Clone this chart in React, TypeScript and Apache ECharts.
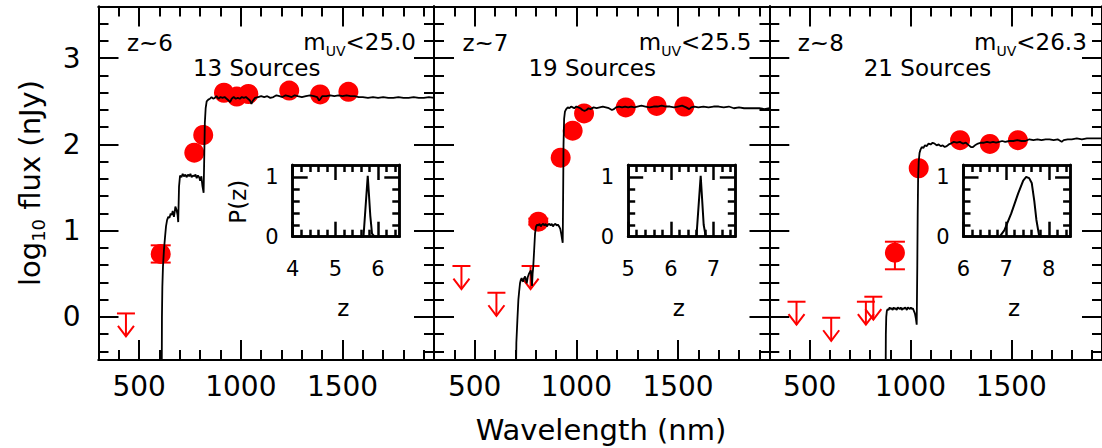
import React, { useEffect, useRef } from 'react';
import * as echarts from 'echarts';

// ---------- axis ranges & ticks ----------
const X_MIN = 300;
const X_MAX = 1950;
const Y_MIN = -0.5;
const Y_MAX = 3.6;
const xMajorTicks = [500, 1000, 1500];
const xMinorTicks = [400, 600, 700, 800, 900, 1100, 1200, 1300, 1400, 1600, 1700, 1800, 1900];
const yMajorTicks = [0, 1, 2, 3];
const yMinorTicks = [-0.4, -0.2, 0.2, 0.4, 0.6, 0.8, 1.2, 1.4, 1.6, 1.8, 2.2, 2.4, 2.6, 2.8, 3.2, 3.4];

// inset (P(z)) axes
const insetZMin = [4, 5, 6];
const insetZMax = [6.5, 7.5, 8.5];
const insetMajor = [[4, 5, 6], [5, 6, 7], [6, 7, 8]];
const insetMinor = [
  [4.2, 4.4, 4.6, 4.8, 5.2, 5.4, 5.6, 5.8, 6.2, 6.4],
  [5.2, 5.4, 5.6, 5.8, 6.2, 6.4, 6.6, 6.8, 7.2, 7.4],
  [6.2, 6.4, 6.6, 6.8, 7.2, 7.4, 7.6, 7.8, 8.2, 8.4],
];
const insetYMajor = [1];
const insetYMinor = [0.2, 0.4, 0.6, 0.8];
const insetYLabels = [0, 1];

// ---------- panel texts ----------
const redshiftLabels = ['z~6', 'z~7', 'z~8'];
const sourceLabels = ['13 Sources', '19 Sources', '21 Sources'];
const magLimits = ['25.0', '25.5', '26.3'];

// ---------- photometry ----------
const det6 = [[606, 0.73], [771, 1.905], [815, 2.11], [917, 2.6], [980, 2.555], [1037, 2.585], [1238, 2.625], [1390, 2.58], [1529, 2.61]];
const det7 = [[813, 1.104], [923, 1.847], [982, 2.16], [1038, 2.36], [1243, 2.43], [1395, 2.447], [1531, 2.44]];
const det8 = [[923, 0.745], [1041, 1.724], [1246, 2.05], [1394, 2.006], [1533, 2.05]];

// error bars [wavelength, low, high]
const err6 = [[606, 0.63, 0.83]];
const err7 = [[813, 1.07, 1.14]];
const err8 = [[923, 0.552, 0.872]];

// upper limits [wavelength, value]
const ul6 = [[435, 0.04]];
const ul7 = [[435, 0.59], [607, 0.28], [775, 0.59]];
const ul8 = [[435, 0.176], [607, -0.01], [779, 0.176], [816, 0.234]];

// ---------- model spectra ----------
const spec6 = [[611, -0.7], [612, 0.0], [614, 0.35], [617, 0.58], [622, 0.78], [627, 0.92], [632, 1.05], [637, 1.12], [643, 1.16], [649, 1.15], [655, 1.2], [660, 1.18], [665, 1.23], [671, 1.16], [675, 1.22], [678, 1.28], [684, 1.24], [689, 1.18], [692, 1.1], [696, 1.51], [701, 1.64], [708, 1.62], [714, 1.66], [720, 1.63], [727, 1.65], [733, 1.62], [740, 1.65], [746, 1.63], [752, 1.66], [758, 1.62], [765, 1.64], [771, 1.63], [777, 1.65], [783, 1.61], [789, 1.64], [795, 1.62], [800, 1.58], [806, 1.63], [811, 1.52], [817, 1.44], [820, 1.85], [823, 2.25], [827, 2.42], [832, 2.5], [840, 2.52], [848, 2.53], [856, 2.55], [864, 2.53], [872, 2.54], [880, 2.56], [890, 2.53], [900, 2.55], [910, 2.54], [920, 2.55], [930, 2.53], [940, 2.51], [947, 2.49], [955, 2.53], [965, 2.55], [975, 2.53], [985, 2.54], [995, 2.53], [1005, 2.55], [1015, 2.54], [1025, 2.55], [1035, 2.53], [1045, 2.51], [1052, 2.47], [1060, 2.51], [1070, 2.54], [1085, 2.55], [1100, 2.56], [1115, 2.55], [1130, 2.56], [1145, 2.54], [1160, 2.55], [1175, 2.57], [1190, 2.56], [1205, 2.55], [1220, 2.57], [1235, 2.56], [1250, 2.55], [1265, 2.57], [1280, 2.56], [1300, 2.55], [1320, 2.56], [1340, 2.57], [1360, 2.56], [1375, 2.55], [1385, 2.51], [1392, 2.53], [1400, 2.56], [1420, 2.56], [1440, 2.57], [1460, 2.56], [1480, 2.57], [1500, 2.56], [1520, 2.57], [1540, 2.56], [1560, 2.56], [1580, 2.55], [1600, 2.55], [1625, 2.54], [1650, 2.55], [1675, 2.54], [1700, 2.55], [1725, 2.54], [1750, 2.54], [1775, 2.55], [1800, 2.54], [1825, 2.54], [1850, 2.55], [1875, 2.54], [1900, 2.54], [1925, 2.55], [1950, 2.54]];

const spec7 = [[703, -0.7], [705, -0.3], [710, -0.04], [715, 0.2], [719, 0.3], [723, 0.39], [727, 0.43], [731, 0.45], [735, 0.42], [739, 0.41], [743, 0.45], [748, 0.47], [752, 0.43], [756, 0.39], [761, 0.46], [767, 0.5], [772, 0.52], [776, 0.54], [779, 0.47], [782, 0.36], [785, 0.5], [788, 0.58], [792, 0.75], [797, 0.97], [802, 1.05], [808, 1.07], [813, 1.06], [819, 1.08], [825, 1.05], [831, 1.07], [837, 1.08], [843, 1.06], [849, 1.08], [855, 1.05], [861, 1.07], [867, 1.08], [873, 1.06], [879, 1.08], [885, 1.05], [891, 1.07], [897, 1.08], [903, 1.06], [909, 1.07], [915, 1.05], [921, 1.02], [926, 0.96], [930, 0.9], [933, 0.86], [935, 1.4], [937, 2.0], [940, 2.3], [944, 2.38], [950, 2.41], [958, 2.43], [966, 2.42], [974, 2.44], [982, 2.43], [990, 2.42], [1000, 2.44], [1010, 2.43], [1020, 2.42], [1030, 2.4], [1040, 2.39], [1050, 2.4], [1060, 2.42], [1070, 2.41], [1085, 2.43], [1100, 2.42], [1115, 2.43], [1130, 2.44], [1145, 2.43], [1160, 2.42], [1175, 2.4], [1185, 2.41], [1195, 2.43], [1210, 2.44], [1225, 2.43], [1240, 2.44], [1255, 2.43], [1270, 2.44], [1285, 2.43], [1300, 2.44], [1320, 2.45], [1340, 2.44], [1360, 2.43], [1380, 2.44], [1400, 2.44], [1420, 2.45], [1440, 2.44], [1460, 2.44], [1480, 2.43], [1500, 2.44], [1520, 2.45], [1540, 2.43], [1555, 2.41], [1565, 2.43], [1580, 2.44], [1600, 2.43], [1625, 2.44], [1650, 2.43], [1675, 2.44], [1700, 2.44], [1725, 2.43], [1750, 2.44], [1775, 2.42], [1800, 2.43], [1825, 2.42], [1850, 2.42], [1875, 2.42], [1900, 2.42], [1925, 2.41], [1950, 2.42]];

const spec8 = [[877, -0.7], [878, -0.2], [880, 0.0], [883, 0.07], [887, 0.09], [892, 0.08], [897, 0.11], [902, 0.09], [907, 0.1], [912, 0.08], [917, 0.11], [922, 0.09], [927, 0.1], [932, 0.08], [937, 0.11], [942, 0.1], [947, 0.09], [952, 0.11], [957, 0.08], [962, 0.1], [967, 0.09], [972, 0.11], [977, 0.1], [982, 0.08], [987, 0.11], [992, 0.1], [997, 0.09], [1002, 0.11], [1007, 0.09], [1012, 0.1], [1017, 0.07], [1022, 0.04], [1027, -0.02], [1031, -0.09], [1034, 0.6], [1036, 1.2], [1038, 1.6], [1041, 1.8], [1045, 1.9], [1050, 1.94], [1056, 1.97], [1064, 1.96], [1072, 1.99], [1080, 1.98], [1090, 2.01], [1100, 2.0], [1110, 2.02], [1120, 2.01], [1130, 1.99], [1140, 2.0], [1150, 1.98], [1160, 1.99], [1170, 1.97], [1180, 1.98], [1190, 2.0], [1200, 2.01], [1215, 2.03], [1230, 2.02], [1245, 2.03], [1260, 2.01], [1275, 2.02], [1290, 1.99], [1300, 1.97], [1310, 1.97], [1320, 1.99], [1335, 2.01], [1350, 2.02], [1365, 2.02], [1380, 2.03], [1395, 2.02], [1410, 2.03], [1425, 2.02], [1440, 2.03], [1455, 2.04], [1470, 2.03], [1490, 2.04], [1510, 2.04], [1530, 2.05], [1550, 2.04], [1570, 2.04], [1590, 2.06], [1610, 2.05], [1630, 2.06], [1650, 2.05], [1670, 2.06], [1690, 2.06], [1710, 2.05], [1730, 2.06], [1750, 2.03], [1760, 2.05], [1780, 2.06], [1800, 2.06], [1825, 2.07], [1850, 2.06], [1875, 2.07], [1900, 2.07], [1925, 2.07], [1950, 2.07]];

// ---------- P(z) ----------
const pz6 = [[4, 0], [5.66, 0], [5.76, 1.02], [5.82, 0.35], [5.86, 0.05], [5.92, 0], [6.5, 0]];
const pz7 = [[5, 0], [6.6, 0], [6.7, 1.02], [6.77, 0.2], [6.82, 0], [7.5, 0]];
const pz8 = [[6, 0], [6.85, 0], [6.96, 0.11], [7.12, 0.39], [7.28, 0.72], [7.4, 0.94], [7.47, 1.0], [7.54, 0.98], [7.6, 0.9], [7.66, 0.6], [7.71, 0.28], [7.77, 0.03], [7.8, 0], [8.5, 0]];

const detections = [det6, det7, det8];
const errors = [err6, err7, err8];
const upperLimits = [ul6, ul7, ul8];
const spectra = [spec6, spec7, spec8];
const pzCurves = [pz6, pz7, pz8];

// ---------- layout / style ----------
const FONT = 'DejaVu Sans';
const RED = '#ff0000';
const PANEL_LEFT = [98.5, 434, 769.3];
const PANEL_W = 335.5;
const PANEL_TOP = 6.5;
const PANEL_H = 353.5;

const plainNumber = (v: number) => String(v);

function axis(gridIndex: number, min: number, max: number, position: string, ticks: number[], len: number, lw: number, labelVals?: number[], labelOpt?: any) {
  return {
    type: 'value',
    gridIndex,
    min,
    max,
    position,
    axisLine: { show: true, onZero: false, lineStyle: { color: '#000', width: lw } },
    axisTick: { show: true, inside: true, length: len, customValues: ticks, lineStyle: { color: '#000', width: lw } },
    axisLabel: labelVals
      ? Object.assign({ show: true, customValues: labelVals, color: '#000', fontFamily: FONT, formatter: plainNumber }, labelOpt || {})
      : { show: false },
    splitLine: { show: false },
  };
}

function buildOption() {
  const grid: any[] = [];
  const xAxis: any[] = [];
  const yAxis: any[] = [];
  const series: any[] = [];
  const graphic: any[] = [];

  for (let i = 0; i < 3; i++) {
    const pl = PANEL_LEFT[i];
    const gMain = grid.length;
    grid.push({ left: pl, top: PANEL_TOP, width: PANEL_W, height: PANEL_H });
    const gIn = grid.length;
    grid.push({ left: pl + 194.2, top: 165, width: 106.6, height: 71.7 });

    const xi = xAxis.length;
    xAxis.push(axis(gMain, X_MIN, X_MAX, 'bottom', xMinorTicks, 10, 2, xMajorTicks, { fontSize: 28, margin: 12 }));
    xAxis.push(axis(gMain, X_MIN, X_MAX, 'bottom', xMajorTicks, 20, 2));
    xAxis.push(axis(gMain, X_MIN, X_MAX, 'top', xMinorTicks, 10, 2));
    xAxis.push(axis(gMain, X_MIN, X_MAX, 'top', xMajorTicks, 20, 2));
    const xin = xAxis.length;
    xAxis.push(axis(gIn, insetZMin[i], insetZMax[i], 'bottom', insetMinor[i], 7, 2.5, insetMajor[i], { fontSize: 21, margin: 22 }));
    xAxis.push(axis(gIn, insetZMin[i], insetZMax[i], 'bottom', insetMajor[i], 15, 2.5));
    xAxis.push(axis(gIn, insetZMin[i], insetZMax[i], 'top', insetMinor[i], 7, 2.5));
    xAxis.push(axis(gIn, insetZMin[i], insetZMax[i], 'top', insetMajor[i], 15, 2.5));

    const yi = yAxis.length;
    yAxis.push(axis(gMain, Y_MIN, Y_MAX, 'left', yMinorTicks, 10, 2, i === 0 ? yMajorTicks : undefined, { fontSize: 28, margin: 18 }));
    yAxis.push(axis(gMain, Y_MIN, Y_MAX, 'left', yMajorTicks, 20, 2));
    yAxis.push(axis(gMain, Y_MIN, Y_MAX, 'right', yMinorTicks, 10, 2));
    yAxis.push(axis(gMain, Y_MIN, Y_MAX, 'right', yMajorTicks, 20, 2));
    const yin = yAxis.length;
    yAxis.push(axis(gIn, 0, 1.2, 'left', insetYMinor, 7, 2.5, insetYLabels, { fontSize: 21, margin: 14, padding: [10, 0, 0, 0] }));
    yAxis.push(axis(gIn, 0, 1.2, 'left', insetYMajor, 15, 2.5));
    yAxis.push(axis(gIn, 0, 1.2, 'right', insetYMinor, 7, 2.5));
    yAxis.push(axis(gIn, 0, 1.2, 'right', insetYMajor, 15, 2.5));

    // error bars
    series.push({
      type: 'custom',
      xAxisIndex: xi,
      yAxisIndex: yi,
      data: errors[i],
      encode: { x: 0, y: [1, 2] },
      z: 3,
      renderItem: (params: any, api: any) => {
        const x = api.value(0);
        const lo = api.coord([x, api.value(1)]);
        const hi = api.coord([x, api.value(2)]);
        const hw = 10;
        const st = { stroke: RED, lineWidth: 2 };
        return {
          type: 'group',
          children: [
            { type: 'line', shape: { x1: lo[0], y1: lo[1], x2: hi[0], y2: hi[1] }, style: st },
            { type: 'line', shape: { x1: lo[0] - hw, y1: lo[1], x2: lo[0] + hw, y2: lo[1] }, style: st },
            { type: 'line', shape: { x1: hi[0] - hw, y1: hi[1], x2: hi[0] + hw, y2: hi[1] }, style: st },
          ],
        };
      },
    });
    // detections
    series.push({
      type: 'scatter',
      xAxisIndex: xi,
      yAxisIndex: yi,
      data: detections[i],
      symbol: 'circle',
      symbolSize: 20,
      itemStyle: { color: RED, opacity: 1 },
      z: 4,
    });
    // upper limits
    series.push({
      type: 'custom',
      xAxisIndex: xi,
      yAxisIndex: yi,
      data: upperLimits[i],
      encode: { x: 0, y: 1 },
      z: 5,
      renderItem: (params: any, api: any) => {
        const p = api.coord([api.value(0), api.value(1)]);
        const st = { stroke: RED, lineWidth: 2, fill: 'none' };
        return {
          type: 'group',
          children: [
            { type: 'line', shape: { x1: p[0] - 9, y1: p[1], x2: p[0] + 9, y2: p[1] }, style: st },
            { type: 'line', shape: { x1: p[0], y1: p[1], x2: p[0], y2: p[1] + 23 }, style: st },
            { type: 'polyline', shape: { points: [[p[0] - 8, p[1] + 12.5], [p[0], p[1] + 23], [p[0] + 8, p[1] + 12.5]] }, style: st },
          ],
        };
      },
    });
    // model spectrum
    series.push({
      type: 'line',
      xAxisIndex: xi,
      yAxisIndex: yi,
      data: spectra[i],
      showSymbol: false,
      symbol: 'none',
      clip: true,
      lineStyle: { color: '#000', width: 1.8 },
      z: 6,
    });
    // P(z)
    series.push({
      type: 'line',
      xAxisIndex: xin,
      yAxisIndex: yin,
      data: pzCurves[i],
      showSymbol: false,
      symbol: 'none',
      lineStyle: { color: '#000', width: 2 },
      z: 6,
    });

    // texts
    graphic.push({
      type: 'text', x: pl + 28.5, y: 42.5, z: 10,
      style: { text: redshiftLabels[i], fill: '#000', font: `23px "${FONT}"`, align: 'left', textAlign: 'left', verticalAlign: 'middle', textVerticalAlign: 'middle' },
    });
    graphic.push({
      type: 'text', x: pl + 158.2, y: 68, z: 10,
      style: { text: sourceLabels[i], fill: '#000', font: `23px "${FONT}"`, align: 'center', textAlign: 'center', verticalAlign: 'middle', textVerticalAlign: 'middle' },
    });
    graphic.push({
      type: 'text', x: pl + 317.5, y: 42, z: 10,
      style: {
        text: `{m|m}{s|UV}{m|<${magLimits[i]}}`,
        fill: '#000',
        align: 'right', textAlign: 'right', verticalAlign: 'middle', textVerticalAlign: 'middle',
        rich: {
          m: { fontSize: 23, fontFamily: FONT, fill: '#000', color: '#000' },
          s: { fontSize: 14, fontFamily: FONT, fill: '#000', color: '#000', padding: [18, 0, 0, 0] },
        },
      },
    });
    graphic.push({
      type: 'text', x: pl + 244.8, y: 308, z: 10,
      style: { text: 'z', fill: '#000', font: `23px "${FONT}"`, align: 'center', textAlign: 'center', verticalAlign: 'middle', textVerticalAlign: 'middle' },
    });
  }

  graphic.push({
    type: 'text', x: 238.3, y: 201.7, rotation: Math.PI / 2, z: 10,
    style: { text: 'P(z)', fill: '#000', font: `23px "${FONT}"`, align: 'center', textAlign: 'center', verticalAlign: 'middle', textVerticalAlign: 'middle' },
  });
  graphic.push({
    type: 'text', x: 601, y: 430, z: 10,
    style: { text: 'Wavelength (nm)', fill: '#000', font: `29px "${FONT}"`, align: 'center', textAlign: 'center', verticalAlign: 'middle', textVerticalAlign: 'middle' },
  });
  graphic.push({
    type: 'text', x: 30, y: 183, rotation: Math.PI / 2, z: 10,
    style: {
      text: '{m|log}{s|10}{m| flux (nJy)}',
      fill: '#000',
      align: 'center', textAlign: 'center', verticalAlign: 'middle', textVerticalAlign: 'middle',
      rich: {
        m: { fontSize: 29, fontFamily: FONT, fill: '#000', color: '#000' },
        s: { fontSize: 18, fontFamily: FONT, fill: '#000', color: '#000', padding: [16, 0, 0, 0] },
      },
    },
  });

  return {
    animation: false,
    backgroundColor: '#fff',
    grid,
    xAxis,
    yAxis,
    series,
    graphic: { elements: graphic },
  };
}

export default function App() {
  const ref = useRef<HTMLDivElement>(null);
  useEffect(() => {
    if (!ref.current) return;
    const chart = echarts.init(ref.current, null, { renderer: 'svg' });
    chart.setOption(buildOption() as any);
    return () => chart.dispose();
  }, []);
  return (
    <div
      ref={ref}
      style={{ position: 'absolute', left: 0, top: 0, width: 1102, height: 448, background: '#fff' }}
    />
  );
}
